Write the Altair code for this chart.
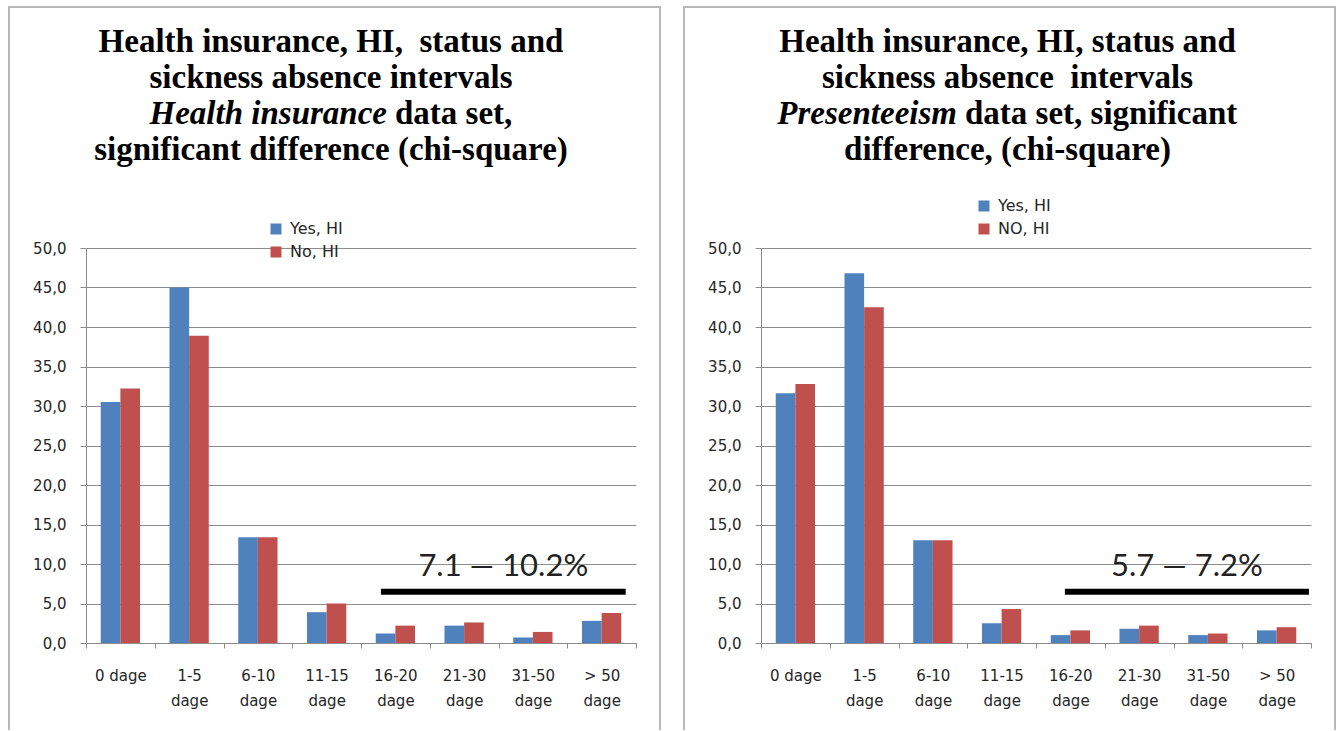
import altair as alt
import pandas as pd

# Sickness-absence intervals (share of respondents, %)
categories = ["0 dage", "1-5 dage", "6-10 dage", "11-15 dage",
              "16-20 dage", "21-30 dage", "31-50 dage", "> 50 dage"]

# Health insurance data set
hi_series = ["Yes, HI", "No, HI"]
hi_yes = [30.5, 45.0, 13.4, 3.9, 1.2, 2.2, 0.7, 2.8]
hi_no = [32.2, 38.9, 13.4, 5.0, 2.2, 2.6, 1.4, 3.8]
hi_note = "7.1 \u2014 10.2%"
hi_span = [4.29, 7.85]   # bracket over the 16+ day intervals (category index units)

# Presenteeism data set
pr_series = ["Yes, HI", "NO, HI"]
pr_yes = [31.6, 46.8, 13.0, 2.5, 1.0, 1.8, 1.0, 1.6]
pr_no = [32.8, 42.5, 13.0, 4.3, 1.6, 2.2, 1.2, 2.0]
pr_note = "5.7 \u2014 7.2%"
pr_span = [4.42, 7.97]

bracket_level = 6.5
y_ticks = [0, 5, 10, 15, 20, 25, 30, 35, 40, 45, 50]

hi_title = ["Health insurance, HI,\u00a0 status and",
            "sickness absence intervals",
            ("Health insurance", "data set,"),
            "significant difference (chi-square)"]
pr_title = ["Health insurance, HI, status and",
            "sickness absence\u00a0 intervals",
            ("Presenteeism", "data set, significant"),
            "difference, (chi-square)"]

BLUE = "#4F81BD"
RED = "#C0504D"
GRID = "#8c8c8c"
FRAME = "#b8b8b8"
W, H = 550, 395
TITLE_SIZE = 33

X_LABELS = ("!datum.label ? '' : datum.label == '0 dage' ? datum.label : "
            "[substring(datum.label, 0, lastindexof(datum.label, ' ')), 'dage']")
Y_LABELS = "replace(format(datum.value, '.1f'), '.', ',')"


def y_axis():
    return alt.Axis(values=y_ticks, tickSize=6, labelPadding=14, grid=True,
                    labelOverlap=False, labelExpr=Y_LABELS, title=None)


def one_row(text):
    return pd.DataFrame({"t": [text]})


def title_layers(lines, center, split):
    layers = []
    base_y = -196
    step = 36
    for i, line in enumerate(lines):
        y = base_y + i * step
        common = dict(font="Liberation Serif", fontSize=TITLE_SIZE, fontWeight="bold",
                      color="black", baseline="alphabetic")
        if isinstance(line, tuple):
            ital, rest = line
            layers.append(alt.Chart(one_row(ital)).mark_text(
                align="right", fontStyle="italic", **common).encode(
                text="t:N", x=alt.value(split), y=alt.value(y)))
            layers.append(alt.Chart(one_row(rest)).mark_text(
                align="left", **common).encode(
                text="t:N", x=alt.value(split + 8), y=alt.value(y)))
        else:
            layers.append(alt.Chart(one_row(line)).mark_text(
                align="center", **common).encode(
                text="t:N", x=alt.value(center), y=alt.value(y)))
    return layers


def frame_layers():
    d = one_row("")
    left = alt.Chart(d).mark_rule(color=FRAME, strokeWidth=2).encode(
        x=alt.value(-77), y=alt.value(-241), y2=alt.value(482))
    right = alt.Chart(d).mark_rule(color=FRAME, strokeWidth=2).encode(
        x=alt.value(574), y=alt.value(-241), y2=alt.value(482))
    top = alt.Chart(d).mark_rule(color=FRAME, strokeWidth=2).encode(
        x=alt.value(-78), x2=alt.value(575), y=alt.value(-241))
    return [left, right, top]


def panel(yes, no, series, note, span, title, center, split, legend_xy):
    df = pd.DataFrame({
        "cat": categories * 2,
        "series": [series[0]] * len(categories) + [series[1]] * len(categories),
        "value": yes + no,
    })
    yscale = alt.Scale(domain=[0, 50])

    bars = alt.Chart(df).mark_bar().encode(
        x=alt.X("cat:N", sort=categories, title=None,
                scale=alt.Scale(paddingInner=0, paddingOuter=0),
                axis=alt.Axis(labelAngle=0, tickBand="extent", tickSize=5,
                              labelPadding=20, labelLineHeight=25, grid=False,
                              labelExpr=X_LABELS)),
        xOffset=alt.XOffset("series:N", sort=series,
                            scale=alt.Scale(domain=series, paddingInner=0,
                                            paddingOuter=0.75)),
        y=alt.Y("value:Q", scale=yscale, axis=y_axis()),
        color=alt.Color("series:N", sort=series,
                        scale=alt.Scale(domain=series, range=[BLUE, RED]),
                        legend=alt.Legend(orient="none", legendX=legend_xy[0],
                                          legendY=legend_xy[1], title=None,
                                          symbolType="square", symbolSize=121,
                                          symbolStrokeWidth=0, labelFontSize=16,
                                          labelFont="DejaVu Sans", labelColor="#262626",
                                          rowPadding=7, labelOffset=6, padding=0)),
    )

    ann = pd.DataFrame({"start": [span[0]], "end": [span[1]],
                        "level": [bracket_level], "label": [note]})
    xq = alt.Scale(domain=[0, 8])
    bracket = alt.Chart(ann).mark_rule(color="black", strokeWidth=6, strokeCap="butt").encode(
        x=alt.X("start:Q", scale=xq, axis=None),
        x2="end:Q",
        y=alt.Y("level:Q", scale=yscale, axis=y_axis()),
    )
    note_text = alt.Chart(ann).transform_calculate(
        mid="(datum.start + datum.end) / 2"
    ).mark_text(font="Lato", fontSize=31, color="#222222", baseline="alphabetic",
                align="center", dy=-16).encode(
        x=alt.X("mid:Q", scale=xq, axis=None),
        y=alt.Y("level:Q", scale=yscale, axis=y_axis()),
        text="label:N",
    )

    layers = frame_layers() + title_layers(title, center, split) + [bars, bracket, note_text]
    return alt.layer(*layers).resolve_scale(x="independent").properties(width=W, height=H)


left = panel(hi_yes, hi_no, hi_series, hi_note, hi_span, hi_title,
             center=245, split=301, legend_xy=(182, -27))
right = panel(pr_yes, pr_no, pr_series, pr_note, pr_span, pr_title,
              center=246.5, split=196, legend_xy=(215, -50))

chart = alt.hconcat(left, right, spacing=20).resolve_scale(
    color="independent", xOffset="independent"
).resolve_legend(color="independent").properties(
    padding={"left": 7, "top": 6, "right": 0, "bottom": 0},
    background="white",
).configure_axis(
    labelFont="DejaVu Sans", labelFontSize=15, labelColor="#262626",
    domainColor=GRID, tickColor=GRID, gridColor=GRID,
).configure_view(stroke=None)

chart.save("out.html", embed_options={"renderer": "svg", "actions": False})
